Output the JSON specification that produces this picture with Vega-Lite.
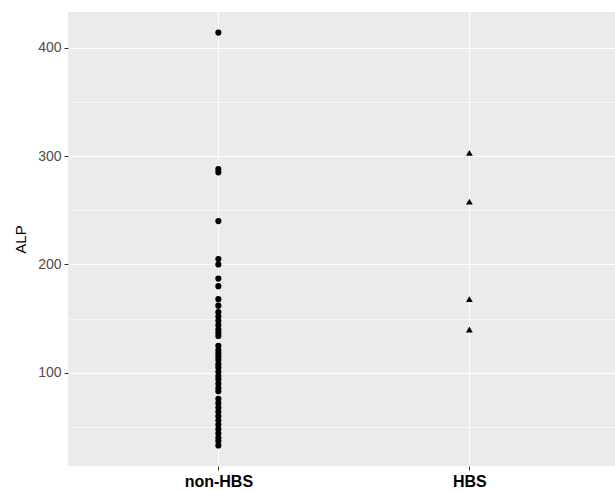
{
  "$schema": "https://vega.github.io/schema/vega-lite/v6.json",
  "width": 547,
  "height": 454,
  "autosize": {"type": "none"},
  "padding": {"left": 68, "top": 12, "right": 0, "bottom": 25},
  "background": "white",
  "config": {
    "view": {"fill": "#EBEBEB", "stroke": null},
    "font": "Liberation Sans"
  },
  "data": {
    "values": [
      {"group": "non-HBS", "ALP": 414},
      {"group": "non-HBS", "ALP": 288},
      {"group": "non-HBS", "ALP": 285},
      {"group": "non-HBS", "ALP": 240},
      {"group": "non-HBS", "ALP": 205},
      {"group": "non-HBS", "ALP": 200},
      {"group": "non-HBS", "ALP": 187},
      {"group": "non-HBS", "ALP": 180},
      {"group": "non-HBS", "ALP": 168},
      {"group": "non-HBS", "ALP": 162},
      {"group": "non-HBS", "ALP": 156},
      {"group": "non-HBS", "ALP": 152},
      {"group": "non-HBS", "ALP": 148},
      {"group": "non-HBS", "ALP": 144},
      {"group": "non-HBS", "ALP": 140},
      {"group": "non-HBS", "ALP": 137},
      {"group": "non-HBS", "ALP": 134},
      {"group": "non-HBS", "ALP": 125},
      {"group": "non-HBS", "ALP": 121},
      {"group": "non-HBS", "ALP": 118},
      {"group": "non-HBS", "ALP": 115},
      {"group": "non-HBS", "ALP": 112},
      {"group": "non-HBS", "ALP": 108},
      {"group": "non-HBS", "ALP": 105},
      {"group": "non-HBS", "ALP": 101},
      {"group": "non-HBS", "ALP": 97},
      {"group": "non-HBS", "ALP": 94},
      {"group": "non-HBS", "ALP": 90},
      {"group": "non-HBS", "ALP": 86},
      {"group": "non-HBS", "ALP": 83},
      {"group": "non-HBS", "ALP": 76},
      {"group": "non-HBS", "ALP": 72},
      {"group": "non-HBS", "ALP": 68},
      {"group": "non-HBS", "ALP": 64},
      {"group": "non-HBS", "ALP": 60},
      {"group": "non-HBS", "ALP": 56},
      {"group": "non-HBS", "ALP": 52},
      {"group": "non-HBS", "ALP": 48},
      {"group": "non-HBS", "ALP": 44},
      {"group": "non-HBS", "ALP": 40},
      {"group": "non-HBS", "ALP": 37},
      {"group": "non-HBS", "ALP": 33},
      {"group": "HBS", "ALP": 303},
      {"group": "HBS", "ALP": 258},
      {"group": "HBS", "ALP": 168},
      {"group": "HBS", "ALP": 140}
    ]
  },
  "layer": [
    {
      "mark": {"type": "rule", "opacity": 0},
      "encoding": {
        "y": {
          "field": "ALP", "type": "quantitative",
          "scale": {"domain": [14, 433], "nice": false, "zero": false},
          "axis": {
            "orient": "left",
            "values": [50, 150, 250, 350],
            "grid": true, "gridColor": "white", "gridWidth": 0.6,
            "labels": false, "ticks": false, "domain": false, "title": null
          }
        }
      }
    },
    {
      "mark": {"type": "point", "filled": true, "opacity": 1, "color": "black"},
      "encoding": {
        "x": {
          "field": "group", "type": "nominal",
          "sort": ["non-HBS", "HBS"],
          "scale": {"type": "point", "padding": 0.5896, "align": 0.508},
          "axis": {
            "title": null, "grid": true, "gridColor": "white", "gridWidth": 1.1,
            "domain": false, "tickColor": "#333333", "tickSize": 4, "tickWidth": 1,
            "labelFont": "Liberation Sans", "labelFontSize": 16, "labelFontWeight": "bold",
            "labelColor": "black", "labelPadding": 3, "labelAngle": 0
          }
        },
        "y": {
          "field": "ALP", "type": "quantitative",
          "scale": {"domain": [14, 433], "nice": false, "zero": false},
          "axis": {
            "orient": "left",
            "values": [100, 200, 300, 400],
            "grid": true, "gridColor": "white", "gridWidth": 1.2,
            "domain": false, "tickColor": "#333333", "tickSize": 4, "tickWidth": 1,
            "labelFont": "Liberation Sans", "labelFontSize": 14, "labelColor": "#4D4D4D",
            "labelPadding": 3,
            "title": "ALP", "titleFont": "Liberation Sans", "titleFontSize": 15,
            "titleFontWeight": "normal", "titleColor": "black", "titlePadding": 9
          }
        },
        "shape": {
          "field": "group", "type": "nominal",
          "scale": {"domain": ["non-HBS", "HBS"], "range": ["circle", "triangle-up"]},
          "legend": null
        },
        "size": {
          "field": "group", "type": "nominal",
          "scale": {"domain": ["non-HBS", "HBS"], "range": [38, 46]},
          "legend": null
        }
      }
    }
  ],
  "resolve": {"axis": {"y": "independent"}}
}
